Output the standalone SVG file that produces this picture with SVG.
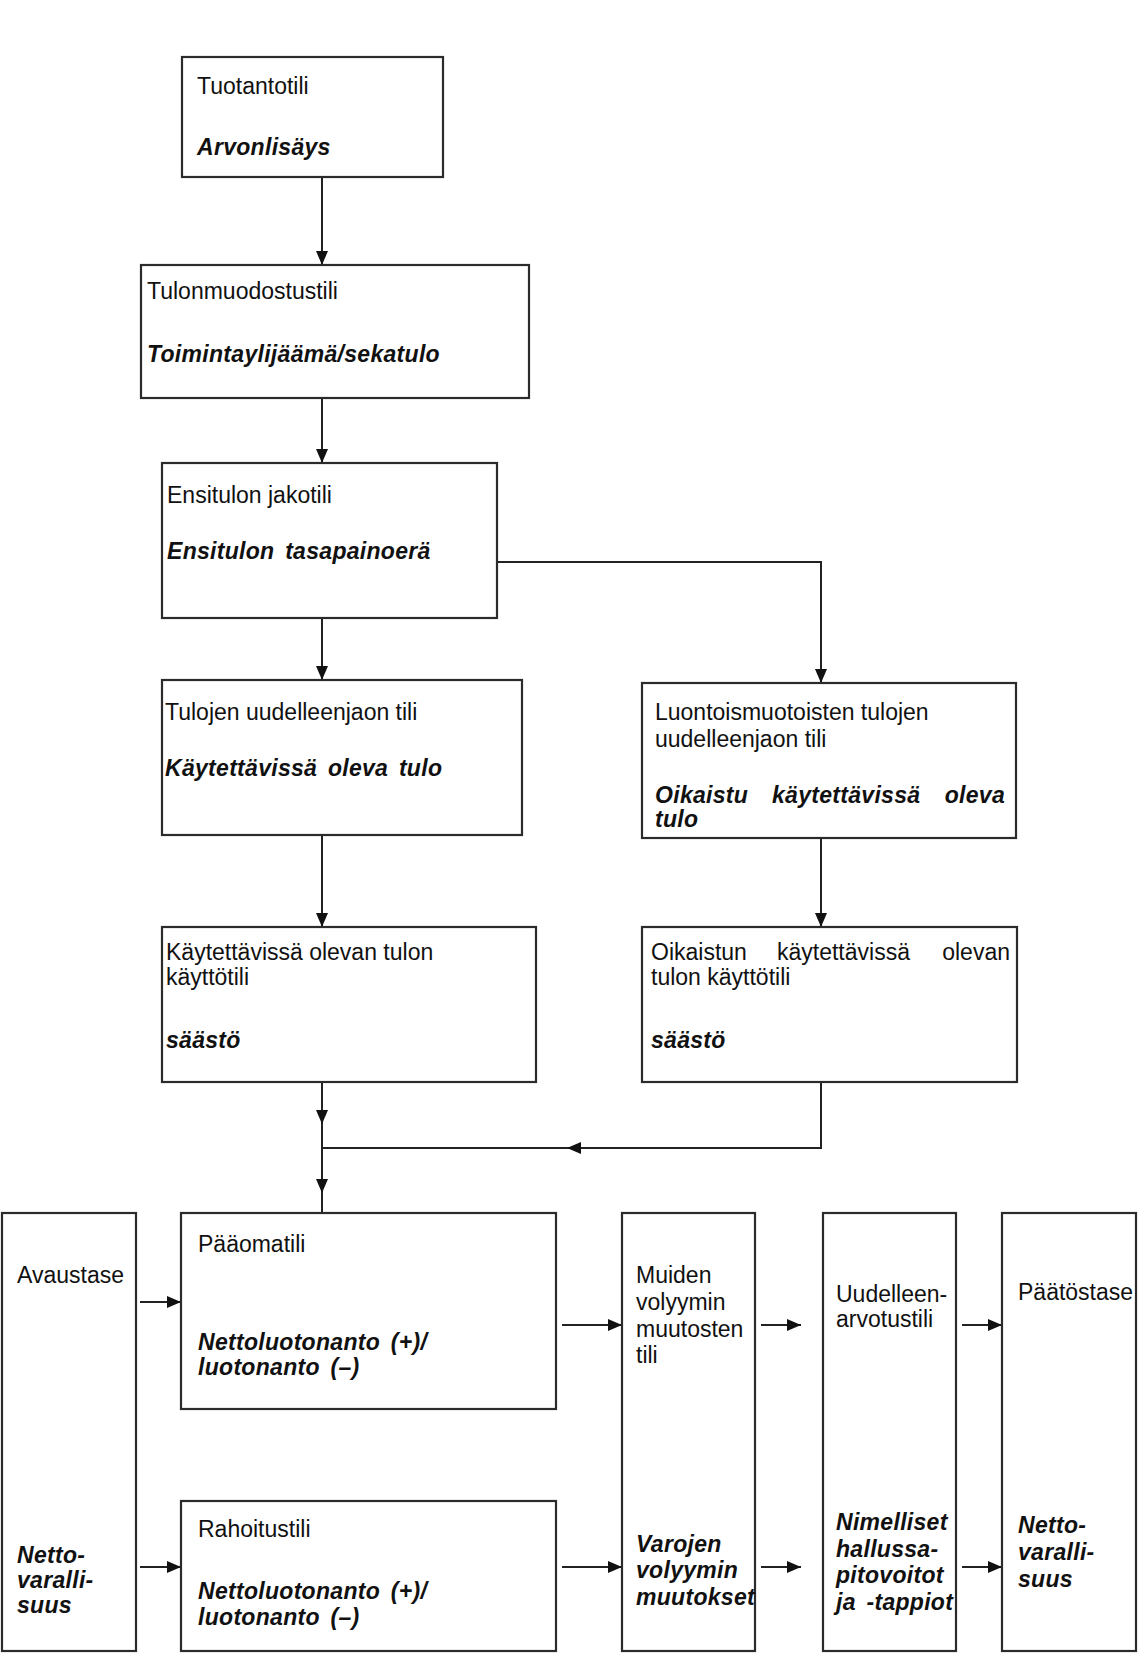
<svg xmlns="http://www.w3.org/2000/svg" width="1138" height="1654" viewBox="0 0 1138 1654">
<style>
.box{fill:#fff;stroke:#2b2b2b;stroke-width:2.2}
text{font-family:"Liberation Sans",Arial,sans-serif;font-size:23px;fill:#111}
.b{font-weight:bold;font-style:italic;letter-spacing:0.3px;word-spacing:4px}
.e{text-anchor:end}
.c{fill:none;stroke:#222;stroke-width:2}
</style>
<defs>
<marker id="ah" viewBox="0 0 14 12" refX="14" refY="6" markerWidth="14" markerHeight="12" markerUnits="userSpaceOnUse" orient="auto">
<path d="M0,0 L14,6 L0,12 Z" fill="#111"/>
</marker>
</defs>
<rect width="1138" height="1654" fill="#fff"/>

<g id="connectors">
<line class="c" x1="322" y1="177" x2="322" y2="265" marker-end="url(#ah)"/>
<line class="c" x1="322" y1="398" x2="322" y2="463" marker-end="url(#ah)"/>
<line class="c" x1="322" y1="618" x2="322" y2="680" marker-end="url(#ah)"/>
<path class="c" d="M497,562 H821 V683" marker-end="url(#ah)"/>
<line class="c" x1="322" y1="835" x2="322" y2="927" marker-end="url(#ah)"/>
<line class="c" x1="821" y1="838" x2="821" y2="927" marker-end="url(#ah)"/>
<polyline class="c" points="322,1082 322,1124 322,1193 322,1213" marker-mid="url(#ah)"/>
<path class="c" d="M821,1082 V1148 H567" marker-end="url(#ah)"/>
<line class="c" x1="567" y1="1148" x2="322" y2="1148"/>
<line class="c" x1="140" y1="1302" x2="181" y2="1302" marker-end="url(#ah)"/>
<line class="c" x1="562" y1="1325" x2="622" y2="1325" marker-end="url(#ah)"/>
<line class="c" x1="761" y1="1325" x2="801" y2="1325" marker-end="url(#ah)"/>
<line class="c" x1="962" y1="1325" x2="1002" y2="1325" marker-end="url(#ah)"/>
<line class="c" x1="140" y1="1567" x2="181" y2="1567" marker-end="url(#ah)"/>
<line class="c" x1="562" y1="1567" x2="622" y2="1567" marker-end="url(#ah)"/>
<line class="c" x1="761" y1="1567" x2="801" y2="1567" marker-end="url(#ah)"/>
<line class="c" x1="962" y1="1567" x2="1002" y2="1567" marker-end="url(#ah)"/>
</g>

<g id="tuotantotili">
<rect class="box" x="182" y="57" width="261" height="120"/>
<text x="197" y="94">Tuotantotili</text>
<text class="b" x="197" y="155">Arvonlisäys</text>
</g>

<g id="tulonmuodostustili">
<rect class="box" x="141" y="265" width="388" height="133"/>
<text x="147" y="299">Tulonmuodostustili</text>
<text class="b" x="147" y="362">Toimintaylijäämä/sekatulo</text>
</g>

<g id="ensitulon-jakotili">
<rect class="box" x="162" y="463" width="335" height="155"/>
<text x="167" y="503">Ensitulon jakotili</text>
<text class="b" x="167" y="559">Ensitulon tasapainoerä</text>
</g>

<g id="tulojen-uudelleenjaon-tili">
<rect class="box" x="162" y="680" width="360" height="155"/>
<text x="165" y="720">Tulojen uudelleenjaon tili</text>
<text class="b" x="165" y="776">Käytettävissä oleva tulo</text>
</g>

<g id="luontoismuotoisten-tili">
<rect class="box" x="642" y="683" width="374" height="155"/>
<text x="655" y="720">Luontoismuotoisten tulojen</text>
<text x="655" y="747">uudelleenjaon tili</text>
<text class="b" y="803"><tspan x="655">Oikaistu</tspan><tspan x="772">käytettävissä</tspan><tspan class="e" x="1005">oleva</tspan></text>
<text class="b" x="655" y="827">tulo</text>
</g>

<g id="kayttotili">
<rect class="box" x="162" y="927" width="374" height="155"/>
<text x="166" y="960">Käytettävissä olevan tulon</text>
<text x="166" y="985">käyttötili</text>
<text class="b" x="166" y="1048">säästö</text>
</g>

<g id="oikaistun-kayttotili">
<rect class="box" x="642" y="927" width="375" height="155"/>
<text y="960"><tspan x="651">Oikaistun</tspan><tspan x="777">käytettävissä</tspan><tspan class="e" x="1010">olevan</tspan></text>
<text x="651" y="985">tulon käyttötili</text>
<text class="b" x="651" y="1048">säästö</text>
</g>

<g id="avaustase">
<rect class="box" x="2" y="1213" width="134" height="438"/>
<text x="17" y="1283">Avaustase</text>
<text class="b" x="17" y="1563">Netto-</text>
<text class="b" x="17" y="1588">varalli-</text>
<text class="b" x="17" y="1613">suus</text>
</g>

<g id="paaomatili">
<rect class="box" x="181" y="1213" width="375" height="196"/>
<text x="198" y="1252">Pääomatili</text>
<text class="b" x="198" y="1350">Nettoluotonanto (+)/</text>
<text class="b" x="198" y="1375">luotonanto (–)</text>
</g>

<g id="rahoitustili">
<rect class="box" x="181" y="1501" width="375" height="150"/>
<text x="198" y="1537">Rahoitustili</text>
<text class="b" x="198" y="1599">Nettoluotonanto (+)/</text>
<text class="b" x="198" y="1625">luotonanto (–)</text>
</g>

<g id="muiden-volyymin-muutosten-tili">
<rect class="box" x="622" y="1213" width="133" height="438"/>
<text x="636" y="1283">Muiden</text>
<text x="636" y="1310">volyymin</text>
<text x="636" y="1337">muutosten</text>
<text x="636" y="1363">tili</text>
<text class="b" x="636" y="1552">Varojen</text>
<text class="b" x="636" y="1578">volyymin</text>
<text class="b" x="636" y="1605" letter-spacing="0">muutokset</text>
</g>

<g id="uudelleenarvostustili">
<rect class="box" x="823" y="1213" width="133" height="438"/>
<text x="836" y="1302">Uudelleen-</text>
<text x="836" y="1327">arvotustili</text>
<text class="b" x="836" y="1530">Nimelliset</text>
<text class="b" x="836" y="1557">hallussa-</text>
<text class="b" x="836" y="1583">pitovoitot</text>
<text class="b" x="836" y="1610" letter-spacing="0">ja -tappiot</text>
</g>

<g id="paatostase">
<rect class="box" x="1002" y="1213" width="134" height="438"/>
<text x="1018" y="1300">Päätöstase</text>
<text class="b" x="1018" y="1533">Netto-</text>
<text class="b" x="1018" y="1560">varalli-</text>
<text class="b" x="1018" y="1587">suus</text>
</g>
</svg>
